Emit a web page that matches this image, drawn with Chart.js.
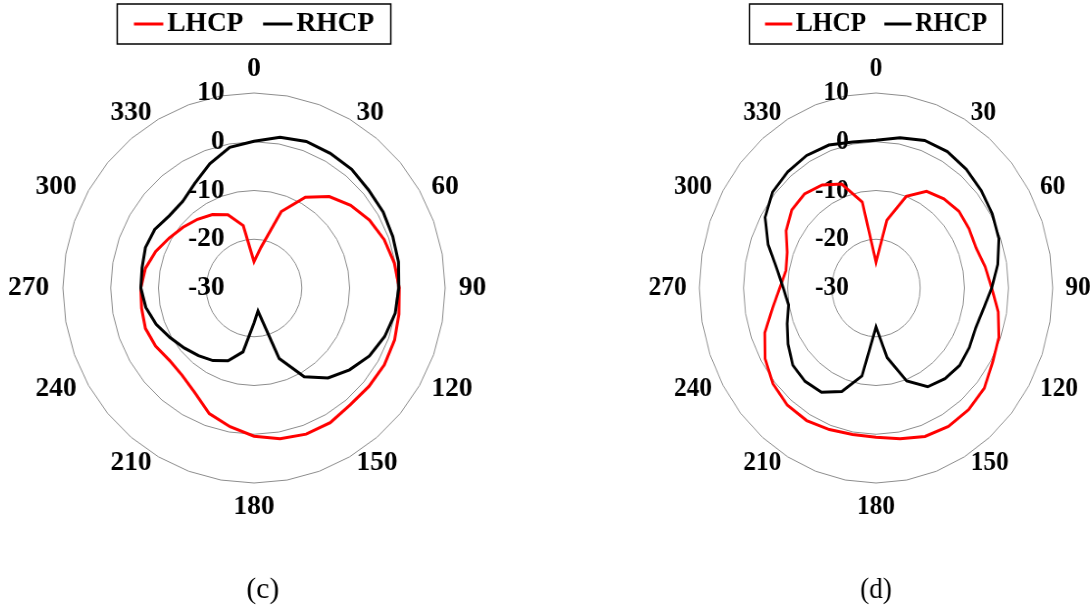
<!DOCTYPE html>
<html>
<head>
<meta charset="utf-8">
<title>LHCP / RHCP radiation patterns</title>
<script src="https://cdn.jsdelivr.net/npm/chart.js@4.4.1/dist/chart.umd.min.js"></script>
<style>
  html, body { margin: 0; padding: 0; background: #ffffff; overflow: hidden; }
  body { width: 1091px; height: 609px; position: relative; }
  canvas { position: absolute; top: 0; transform-origin: 250px 0; }
  #chartC { left: 4px; transform: scaleX(0.98); }
  #chartD { left: 626px; transform: scaleX(0.906); }
</style>
</head>
<body>
<canvas id="chartC" width="500" height="609"></canvas>
<canvas id="chartD" width="500" height="609"></canvas>
<script>
// Angular positions (degrees, clockwise from top)
const angles = [0, 10, 20, 30, 40, 50, 60, 70, 80, 90, 100, 110, 120, 130, 140, 150, 160, 170,
                180, 190, 200, 210, 220, 230, 240, 250, 260, 270, 280, 290, 300, 310, 320, 330, 340, 350];
// Angle labels shown around the rim
const angleTicks = [0, 30, 60, 90, 120, 150, 180, 210, 240, 270, 300, 330];
// Gain rings (dB)
const gainTicks = [-30, -20, -10, 0, 10];

const seriesNames = ['LHCP', 'RHCP'];
const seriesColors = ['#ff0000', '#000000'];

// Pattern (c), gain in dB
const lhcpC = [-24.6, -21.5, -13.3, -8.5, -5.5, -3.6, -2.1, -1.0, -0.2, 0.4, 0.8, 1.3, 1.5, 1.4, 1.3, 1.9, 1.9, 1.4,
               0.4, -1.1, -2.6, -5.2, -6.6, -6.9, -6.2, -5.8, -6.1, -6.3, -6.9, -8.1, -9.5, -10.6, -11.6, -12.6, -14.0, -17.0];
const rhcpC = [0.1, 1.4, 2.0, 1.9, 1.8, 1.3, 1.2, 0.9, 0.7, 0.3, 0.0, -0.9, -2.1, -3.9, -5.9, -9.0, -14.6, -25.2,
               -22.8, -16.7, -14.1, -12.8, -11.9, -10.9, -9.7, -8.2, -7.0, -6.3, -6.2, -5.8, -6.0, -6.9, -6.8, -5.2, -2.9, -0.7];

// Pattern (d), gain in dB
const lhcpD = [-24.7, -15.9, -10.0, -7.1, -6.1, -5.5, -5.7, -5.9, -4.9, -3.8, -1.9, -0.4, 0.5, 2.0, 2.6, 2.8, 2.4, 1.4,
               0.6, 0.5, 0.9, 1.4, 1.3, 0.5, -1.0, -3.2, -6.2, -8.2, -9.3, -8.6, -6.5, -5.1, -4.8, -5.6, -7.3, -12.1];
const rhcpD = [0.3, 1.3, 2.2, 2.3, 1.8, 1.1, 0.4, -0.4, -2.0, -3.8, -5.3, -6.0, -5.6, -5.3, -5.7, -6.6, -9.7, -15.5,
               -22.0, -11.7, -7.4, -5.3, -5.0, -5.4, -7.0, -8.6, -9.9, -9.0, -7.2, -4.0, -1.0, 0.6, 1.1, 1.4, 1.2, 0.4];

const captions = ['(c)', '(d)'];

const SERIF = "'Liberation Serif', 'Times New Roman', Times, serif";
const LABEL_FONT = 'bold 28px ' + SERIF;

// Ring values, rim angles, boxed legend and caption, placed from the radial scale
const polarDecor = {
  id: 'polarDecor',
  beforeDatasetsDraw(chart) {
    const r = chart.scales.r;
    const ctx = chart.ctx;
    ctx.save();
    ctx.font = LABEL_FONT;
    ctx.fillStyle = '#000000';
    ctx.textAlign = 'right';
    ctx.textBaseline = 'middle';
    gainTicks.forEach(v => {
      const y = r.yCenter - r.getDistanceFromCenterForValue(v);
      ctx.fillText(String(v), r.xCenter - 30, y);
    });
    ctx.restore();
  },
  afterDraw(chart, args, opts) {
    const r = chart.scales.r;
    const ctx = chart.ctx;
    ctx.save();

    // rim angle labels
    ctx.font = LABEL_FONT;
    ctx.fillStyle = '#000000';
    ctx.textBaseline = 'middle';
    angleTicks.forEach(a => {
      const i = angles.indexOf(a);
      const onAxis = (a === 0 || a === 180);
      const px = r.getPointPosition(i, r.drawingArea + 14).x;
      const py = r.getPointPosition(i, r.drawingArea + (onAxis ? 24 : 7)).y;
      ctx.textAlign = onAxis ? 'center' : (a < 180 ? 'left' : 'right');
      ctx.fillText(String(a), px, py);
    });

    // boxed legend
    const ds = chart.data.datasets;
    const lineLen = 30, gapText = 4, gapItem = 20, padX = 17, legendY = 24;
    const widths = ds.map(d => ctx.measureText(d.label).width);
    const total = widths.reduce((s, w) => s + lineLen + gapText + w, 0) + gapItem * (ds.length - 1);
    let x = r.xCenter - total / 2;
    ctx.strokeStyle = '#000000';
    ctx.lineWidth = 1.5;
    ctx.strokeRect(x - padX, 4, total + 2 * padX, 40);
    ds.forEach((d, k) => {
      ctx.beginPath();
      ctx.strokeStyle = d.borderColor;
      ctx.lineWidth = 3;
      ctx.moveTo(x, legendY);
      ctx.lineTo(x + lineLen, legendY);
      ctx.stroke();
      ctx.fillStyle = '#000000';
      ctx.textAlign = 'left';
      ctx.fillText(d.label, x + lineLen + gapText, legendY);
      x += lineLen + gapText + widths[k] + gapItem;
    });

    // caption below the plot
    ctx.font = '30px ' + SERIF;
    ctx.textAlign = 'center';
    ctx.fillText(opts.caption, r.xCenter + opts.captionShift, chart.height - 19);
    ctx.restore();
  }
};

function buildPattern(canvasId, lhcp, rhcp, caption, captionShift) {
  return new Chart(document.getElementById(canvasId), {
    type: 'radar',
    data: {
      labels: angles,
      datasets: [
        { label: seriesNames[0], data: lhcp, borderColor: seriesColors[0], backgroundColor: seriesColors[0], fill: false, order: 1 },
        { label: seriesNames[1], data: rhcp, borderColor: seriesColors[1], backgroundColor: seriesColors[1], fill: false, order: 0 }
      ]
    },
    options: {
      responsive: false,
      animation: false,
      layout: { padding: { top: 93, bottom: 126, left: 0, right: 0 } },
      elements: {
        line: { borderWidth: 3, tension: 0 },
        point: { radius: 0, hoverRadius: 0, hitRadius: 0 }
      },
      plugins: {
        legend: { display: false },
        tooltip: { enabled: false },
        polarDecor: { caption: caption, captionShift: captionShift }
      },
      scales: {
        r: {
          min: -30,
          max: 10,
          ticks: { display: false, stepSize: 10 },
          grid: { color: '#8c8c8c', lineWidth: 1, circular: false },
          angleLines: { display: false },
          pointLabels: { display: false }
        }
      }
    },
    plugins: [polarDecor]
  });
}

buildPattern('chartC', lhcpC, rhcpC, captions[0], 9);
buildPattern('chartD', lhcpD, rhcpD, captions[1], 0);
</script>
</body>
</html>
